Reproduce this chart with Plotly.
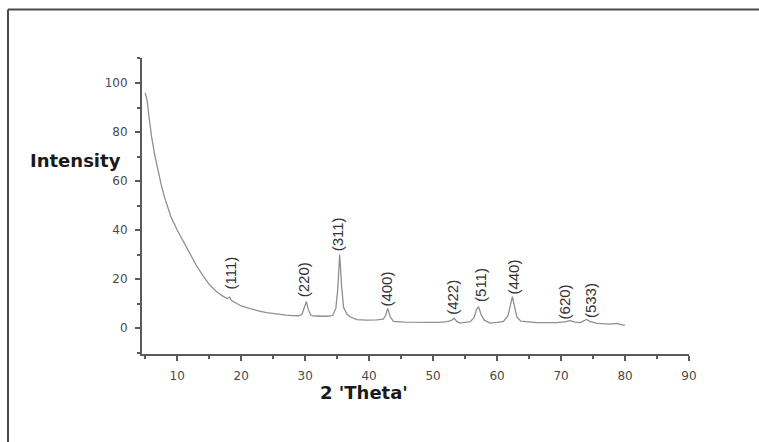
import plotly.graph_objects as go

# XRD pattern
two_theta = [5.0, 5.3, 5.6, 6.0, 6.5, 7.0, 7.5, 8.0, 8.5, 9.0, 10.0, 11.0, 12.0, 13.0, 14.0, 15.0,
             16.0, 17.0, 17.8, 18.2, 18.5, 19.0, 20.0, 21.0, 22.0, 23.0, 24.0, 25.0, 26.0, 27.0,
             28.0, 29.0, 29.5, 29.9, 30.2, 30.5, 30.9, 31.5, 32.5, 33.5, 34.3, 34.8, 35.1, 35.4,
             35.7, 36.0, 36.5, 37.0, 38.1, 39.5, 41.2, 42.2, 42.6, 42.9, 43.3, 43.8, 45.5, 48.5,
             51.0, 52.1, 52.8, 53.3, 53.7, 54.2, 55.0, 55.8, 56.4, 56.8, 57.1, 57.5, 58.0, 58.9,
             60.0, 61.0, 61.7, 62.1, 62.4, 62.7, 63.1, 63.7, 64.4, 66.2, 69.3, 70.6, 71.4, 72.2,
             73.0, 73.6, 74.0, 74.5, 75.6, 77.7, 78.7, 79.7, 80.0]
intensity = [96.0, 93.0, 86.0, 78.0, 70.5, 64.0, 58.5, 53.5, 49.0, 45.5, 40.0, 35.0, 30.0, 25.5, 21.5, 17.8,
             15.2, 13.2, 12.0, 12.6, 11.2, 10.4, 9.0, 8.2, 7.4, 6.8, 6.3, 5.9, 5.6, 5.3,
             5.1, 5.0, 5.6, 8.2, 10.8, 7.5, 5.2, 4.9, 4.8, 4.8, 5.1, 8.0, 16.0, 30.0,
             17.0, 8.5, 5.8, 4.6, 3.4, 3.2, 3.3, 3.6, 5.2, 8.0, 4.6, 2.7, 2.4, 2.2,
             2.3, 2.6, 3.0, 4.0, 2.7, 2.0, 2.2, 2.6, 4.2, 7.6, 8.7, 5.5, 3.2, 2.0,
             2.3, 2.7, 5.0, 9.5, 12.8, 9.0, 4.5, 2.8, 2.6, 2.2, 2.2, 2.5, 3.0, 2.4,
             2.2, 3.0, 3.5, 2.7, 1.9, 1.6, 1.9, 1.2, 1.2]

# Miller index labels
hkl_labels = ["(111)", "(220)", "(311)", "(400)", "(422)", "(511)", "(440)", "(620)", "(533)"]
hkl_x = [18.3, 29.7, 35.2, 42.8, 53.1, 57.3, 62.5, 70.6, 74.6]
hkl_y = [22.4, 19.6, 38.4, 15.7, 12.7, 17.5, 20.6, 10.8, 11.2]

x_ticks = [10, 20, 30, 40, 50, 60, 70, 80, 90]
y_ticks = [0, 20, 40, 60, 80, 100]

fig = go.Figure()
fig.add_trace(go.Scatter(x=two_theta, y=intensity, mode="lines",
                         line=dict(color="#8f8f8f", width=1.3), showlegend=False,
                         hoverinfo="skip"))

for lab, lx, ly in zip(hkl_labels, hkl_x, hkl_y):
    fig.add_annotation(x=lx, y=ly, text=lab, textangle=-90, showarrow=False,
                       xanchor="center", yanchor="middle",
                       font=dict(family="Liberation Sans", size=15, color="#333333"))

axis_common = dict(showline=True, linecolor="#5a5a5a", linewidth=2, ticks="outside",
                   ticklen=5, tickwidth=1.5, tickcolor="#5a5a5a", showgrid=False,
                   zeroline=False, ticklabelstandoff=5,
                   tickfont=dict(family="DejaVu Sans", size=12, color="#4a4a4a"))

fig.update_xaxes(range=[4.5, 90], tickvals=x_ticks,
                 minor=dict(dtick=5, tick0=0, ticklen=3, tickwidth=1.5, tickcolor="#5a5a5a", ticks="outside"),
                 **axis_common)
fig.update_yaxes(range=[-10.6, 110.2], tickvals=y_ticks,
                 minor=dict(dtick=10, tick0=0, ticklen=3, tickwidth=1.5, tickcolor="#5a5a5a", ticks="outside"),
                 **axis_common)

fig.add_annotation(xref="paper", yref="paper", x=(75 - 142) / 547, y=(354 - 160) / 296,
                   xanchor="center", yanchor="middle",
                   text="<b>Intensity</b>", showarrow=False,
                   font=dict(family="DejaVu Sans", size=18, color="#1a1a1a"))
fig.add_annotation(xref="paper", yref="paper", x=(364 - 142) / 547, y=(354 - 392) / 296,
                   xanchor="center", yanchor="middle",
                   text="<b>2 'Theta'</b>", showarrow=False,
                   font=dict(family="DejaVu Sans", size=18, color="#1a1a1a"))

# outer frame (left and top edges visible)
fx0 = (8 - 142) / 547
fx1 = (770 - 142) / 547
fy1 = (354 - 9.5) / 296
fy0 = (354 - 450) / 296
fig.add_shape(type="line", xref="paper", yref="paper", x0=fx0, x1=fx0, y0=fy0, y1=fy1,
              line=dict(color="#4a4a4a", width=2), layer="below")
fig.add_shape(type="line", xref="paper", yref="paper", x0=fx0, x1=fx1, y0=fy1, y1=fy1,
              line=dict(color="#4a4a4a", width=2), layer="below")

fig.update_layout(width=759, height=442, margin=dict(l=142, r=70, t=58, b=88),
                  plot_bgcolor="white", paper_bgcolor="white")

fig.write_html("out.html", config={"displayModeBar": False})
